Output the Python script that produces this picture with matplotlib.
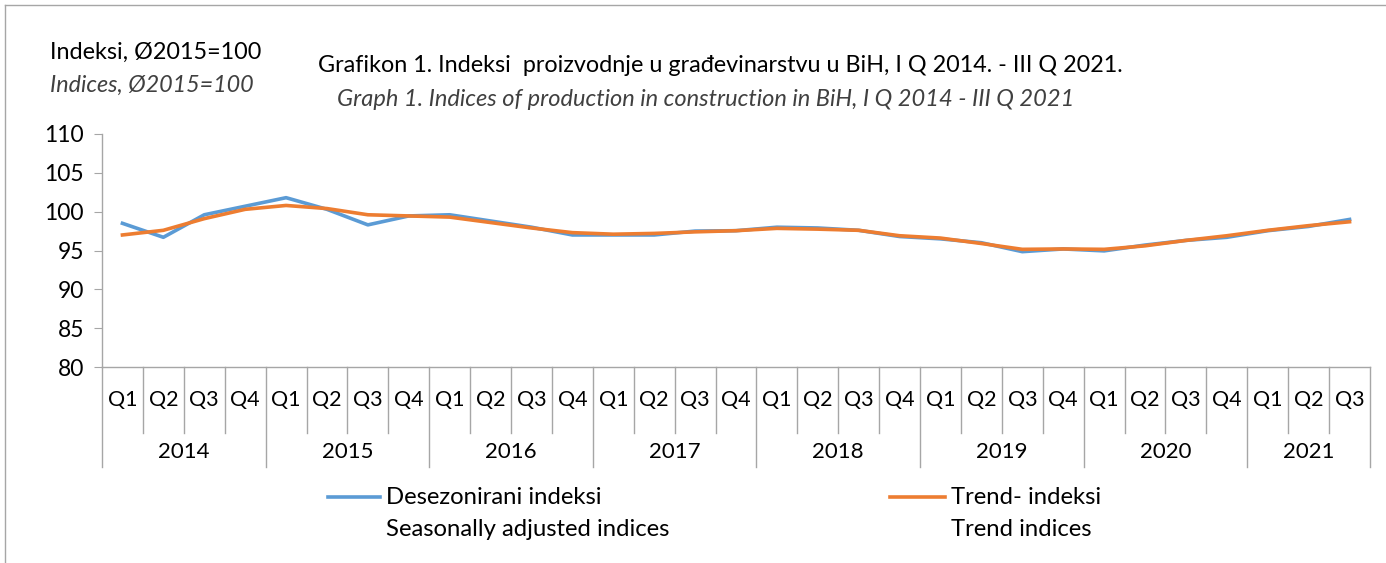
import matplotlib.pyplot as plt
from matplotlib.lines import Line2D

# ---------------------- Data -------------------

years = ["2014", "2015", "2016", "2017", "2018", "2019", "2020", "2021"]
quarters = ["Q1", "Q2", "Q3", "Q4"]

seasonally_adjusted = [98.5, 96.7, 99.6, 100.7,
                       101.8, 100.3, 98.3, 99.45,
                       99.6, 98.8, 98.0, 97.0,
                       97.0, 97.0, 97.5, 97.55,
                       98.0, 97.9, 97.6, 96.8,
                       96.5, 96.0, 94.85, 95.2,
                       94.95, 95.7, 96.3, 96.7,
                       97.55, 98.1, 99.0]
trend = [97.0, 97.6, 99.1, 100.3,
         100.8, 100.4, 99.6, 99.45,
         99.3, 98.6, 97.9, 97.3,
         97.1, 97.2, 97.4, 97.55,
         97.85, 97.75, 97.6, 96.9,
         96.6, 95.9, 95.15, 95.2,
         95.15, 95.6, 96.3, 96.9,
         97.6, 98.2, 98.7]

# quarter labels for each point (last year only until Q3)
cat_labels = [q for y in years for q in quarters][:len(trend)]

BLUE = "#5B9BD5"
ORANGE = "#ED7D31"
GREY = "#A6A6A6"
FONT = "Lato"

plt.rcParams['font.family'] = [FONT, 'DejaVu Sans']

W, H = 1386, 563
fig = plt.figure(figsize=(W / 100, H / 100), dpi=100)

left, right, top, bottom = 102, 1370, 134, 367
ax = fig.add_axes([left / W, 1 - bottom / H, (right - left) / W, (bottom - top) / H])

x = list(range(len(trend)))
ax.plot(x, seasonally_adjusted, color=BLUE, lw=2.6, solid_joinstyle="round")
ax.plot(x, trend, color=ORANGE, lw=2.6, solid_joinstyle="round")

ax.set_xlim(-0.5, len(trend) - 0.5)
ax.set_ylim(80, 110)
ax.set_yticks(range(80, 111, 5))
ax.tick_params(axis="y", labelsize=16.5, length=6, color=GREY, direction="out", pad=7)
ax.tick_params(axis="x", bottom=False, labelbottom=False)
for s in ["top", "right"]:
    ax.spines[s].set_visible(False)
for s in ["left", "bottom"]:
    ax.spines[s].set_color(GREY)
    ax.spines[s].set_linewidth(1)

# two-tier category axis
tr = ax.get_xaxis_transform()
px = 1.0 / (bottom - top)  # one pixel in axes fraction (vertical)
q_y = -(400 - bottom) * px
yr_y = -(452 - bottom) * px
q_end = -(433 - bottom) * px
yr_end = -(467 - bottom) * px

for i, lab in enumerate(cat_labels):
    ax.text(i, q_y, lab, transform=tr, ha="center", va="center", fontsize=15.5)

for i in range(len(trend) + 1):
    edge = i - 0.5
    is_year = (i % 4 == 0) or i == len(trend)
    ax.add_line(Line2D([edge, edge], [0, yr_end if is_year else q_end],
                       transform=tr, color=GREY, lw=1, clip_on=False))

for k, yr in enumerate(years):
    start = k * 4
    end = min(start + 4, len(trend))
    ax.text((start + end - 1) / 2, yr_y, yr, transform=tr, ha="center",
            va="center", fontsize=16)

# titles
fig.text(50 / W, 1 - 52 / H, "Indeksi, Ø2015=100", fontsize=16.8, va="center")
fig.text(50 / W, 1 - 85 / H, "Indices, Ø2015=100", fontsize=16.8, va="center",
         style="italic", color="#404040")
fig.text(720 / W, 1 - 66 / H,
         "Grafikon 1. Indeksi  proizvodnje u građevinarstvu u BiH, I Q 2014. - III Q 2021.",
         fontsize=16.8, ha="center", va="center")
fig.text(706 / W, 1 - 99 / H,
         "Graph 1. Indices of production in construction in BiH, I Q 2014 - III Q 2021",
         fontsize=17, ha="center", va="center", style="italic", color="#404040")

# legend drawn by hand
for (x0, x1, tx, col, l1, l2) in [(328, 380, 386, BLUE, "Desezonirani indeksi",
                                    "Seasonally adjusted indices"),
                                   (890, 945, 951, ORANGE, "Trend- indeksi",
                                    "Trend indices")]:
    fig.add_artist(Line2D([x0 / W, x1 / W], [1 - 497 / H, 1 - 497 / H],
                          color=col, lw=2.6))
    fig.text(tx / W, 1 - 497 / H, l1, fontsize=17.2, va="center")
    fig.text(tx / W, 1 - 530 / H, l2, fontsize=17.2, va="center")

# outer frame (left and top visible)
fig.add_artist(Line2D([5 / W, 5 / W], [0, 1 - 5 / H], color=GREY, lw=1))
fig.add_artist(Line2D([5 / W, 1], [1 - 5 / H, 1 - 5 / H], color=GREY, lw=1))

fig.savefig("out.png", dpi=100)
